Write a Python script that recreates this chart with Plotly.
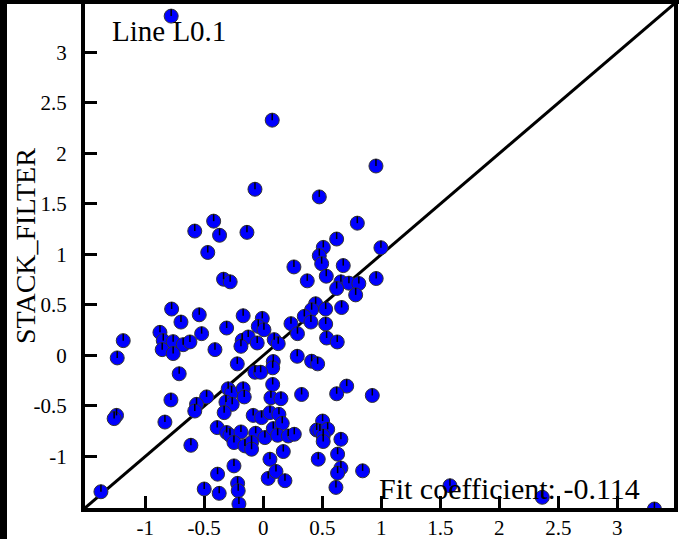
import plotly.graph_objects as go

# ---- data ----
x_vals = [
    -0.78, 0.076, 0.955, -0.07, 0.475, -0.42, -0.58, -0.37, -0.138, 0.797,
    -0.47, 0.622, 0.509, 0.997, 0.475, 0.26, 0.495, 0.678, 0.534, -0.336,
    -0.28, 0.373, 0.658, 0.726, 0.81, 0.957, 0.622, 0.783, 0.444, 0.41,
    0.348, 0.529, 0.664, 0.235, 0.404, 0.529, 0.29, 0.093, 0.127, 0.537,
    0.627, 0.288, 0.41, 0.461, 0.707, 0.622, 0.325, 0.924, 0.065, 0.15,
    -0.776, -0.697, -0.542, -0.17, -0.008, -0.042, 0.006, -0.31, -0.875, -1.186,
    -0.522, -0.847, -0.763, -0.678, -0.621, -0.856, -0.763, -0.409, -0.178, -0.127,
    -0.051, -0.189, 0.085, 0.08, -1.237, -0.22, -0.712, -0.07, -0.022, 0.08,
    -0.297, -0.268, -0.17, -0.161, -0.48, -0.782, -0.565, -0.58, -1.243, -1.263,
    -0.833, -0.316, -0.263, -0.331, -0.085, -0.014, 0.057, -0.39, -0.31, -0.282,
    -0.189, -0.248, -0.064, 0.014, -0.155, -0.099, -0.099, 0.085, -0.613, 0.057,
    -0.248, -0.387, 0.042, -0.217, -0.212, -0.5, -0.373, -0.206, -1.375, 0.133,
    0.161, 0.122, 0.212, 0.263, 0.503, 0.453, 0.48, 0.546, 0.508, 0.508,
    0.658, 0.17, 0.466, 0.63, 0.658, 0.63, 0.108, 0.184, 0.842, 0.616,
    1.582, 2.364, 3.314,
]
y_vals = [
    3.36, 2.33, 1.876, 1.646, 1.57, 1.33, 1.232, 1.19, 1.219, 1.31,
    1.02, 1.153, 1.07, 1.067, 0.988, 0.877, 0.909, 0.89, 0.785, 0.755,
    0.729, 0.739, 0.729, 0.716, 0.712, 0.762, 0.663, 0.6, 0.512, 0.453,
    0.387, 0.46, 0.475, 0.315, 0.331, 0.312, 0.216, 0.157, 0.117, 0.173,
    0.134, -0.008, -0.057, -0.083, -0.303, -0.379, -0.386, -0.396, -0.418, -0.428,
    0.46, 0.331, 0.403, 0.393, 0.367, 0.288, 0.255, 0.272, 0.229, 0.147,
    0.216, 0.147, 0.137, 0.107, 0.134, 0.058, 0.019, 0.058, 0.15, 0.183,
    0.124, 0.091, -0.06, -0.122, -0.024, -0.083, -0.181, -0.166, -0.166, -0.287,
    -0.33, -0.37, -0.33, -0.41, -0.41, -0.44, -0.484, -0.55, -0.593, -0.625,
    -0.659, -0.461, -0.484, -0.566, -0.593, -0.615, -0.566, -0.714, -0.763, -0.79,
    -0.757, -0.862, -0.77, -0.813, -0.895, -0.862, -0.928, -0.724, -0.889, -1.027,
    -1.093, -1.175, -1.217, -1.266, -1.339, -1.322, -1.365, -1.47, -1.349, -0.583,
    -0.672, -0.79, -0.797, -0.78, -0.649, -0.738, -0.748, -0.731, -0.797, -0.852,
    -0.83, -0.951, -1.027, -0.977, -1.115, -1.165, -1.148, -1.24, -1.142, -1.306,
    -1.29, -1.404, -1.52,
]
axis_range = [-1.51, 3.48]
tick_vals = [-1, -0.5, 0, 0.5, 1, 1.5, 2, 2.5, 3]
tick_text = ["-1", "-0.5", "0", "0.5", "1", "1.5", "2", "2.5", "3"]
y_title = "STACK_FILTER"
line_label = "Line L0.1"
fit_label = "Fit coefficient: -0.114"

FONT = "Liberation Serif, Times New Roman, serif"
W, H = 679, 539
# plot area in page pixels
PL, PR, PT, PB = 85, 674, 4, 508


def px_x(p):
    """page pixel x -> paper coordinate (paper = whole figure, margins 0)"""
    return p / W


def px_y(p):
    """page pixel y -> paper coordinate"""
    return (H - p) / H


fig = go.Figure()

# identity line across the axis range
fig.add_trace(go.Scatter(
    x=axis_range, y=axis_range, mode="lines",
    line=dict(color="black", width=3), hoverinfo="skip", showlegend=False,
))

fig.add_trace(go.Scatter(
    x=x_vals, y=y_vals, mode="markers",
    marker=dict(size=14, color="#0000ff", line=dict(color="#333333", width=1)),
    showlegend=False,
))

# small radial tick inside each marker (as in the original rendering)
units_per_px = (axis_range[1] - axis_range[0]) / (PB - PT)
fig.add_trace(go.Scatter(
    x=x_vals, y=[v + 3.5 * units_per_px for v in y_vals], mode="markers",
    marker=dict(symbol="line-ns", size=5, line=dict(color="black", width=1.5)),
    hoverinfo="skip", showlegend=False,
))

axis_common = dict(
    range=axis_range, tickvals=tick_vals, ticktext=tick_text,
    ticks="inside", ticklen=12, tickwidth=3, tickcolor="black",
    showline=True, linewidth=4, linecolor="black", mirror=True,
    showgrid=False, zeroline=False, automargin=False,
    tickfont=dict(family=FONT, size=21, color="black"),
)
fig.update_xaxes(**axis_common, ticklabelstandoff=-2,
                 domain=[px_x(PL), px_x(PR)])
fig.update_yaxes(**axis_common, ticklabelstandoff=10,
                 domain=[px_y(PB), px_y(PT)])

fig.update_layout(
    width=W, height=H,
    margin=dict(l=0, r=0, t=0, b=0, pad=0, autoexpand=False),
    paper_bgcolor="white", plot_bgcolor="white",
    font=dict(family=FONT, color="black"),
    shapes=[
        dict(type="rect", xref="paper", yref="paper",
             x0=0, x1=px_x(7), y0=0, y1=1,
             fillcolor="black", line=dict(width=0), layer="above"),
        dict(type="rect", xref="paper", yref="paper",
             x0=0, x1=1, y0=px_y(4), y1=1,
             fillcolor="black", line=dict(width=0), layer="above"),
    ],
    annotations=[
        dict(text=y_title, textangle=-90, xref="paper", yref="paper",
             x=px_x(26), y=px_y(246), xanchor="center", yanchor="middle",
             showarrow=False, font=dict(family=FONT, size=28, color="black")),
        dict(text=line_label, xref="paper", yref="paper",
             x=px_x(110), y=px_y(31), xanchor="left", yanchor="middle",
             showarrow=False, font=dict(family=FONT, size=29, color="black")),
        dict(text=fit_label, xref="paper", yref="paper",
             x=px_x(642), y=px_y(488), xanchor="right", yanchor="middle",
             showarrow=False, font=dict(family=FONT, size=30, color="black")),
    ],
)

fig.write_html(
    "out.html",
    config={"displayModeBar": False},
    post_script="document.body.style.margin='0';document.body.style.padding='0';",
)
